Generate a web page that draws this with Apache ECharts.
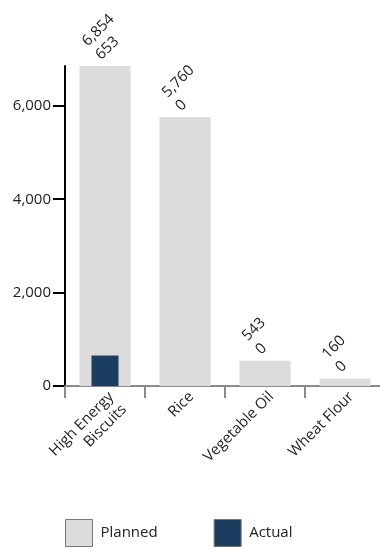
<!DOCTYPE html>
<html>
<head>
<meta charset="utf-8">
<script src="https://cdn.jsdelivr.net/npm/echarts@6/dist/echarts.min.js"></script>
<style>
  html, body { margin: 0; padding: 0; background: #fff; }
  #chart { width: 380px; height: 549px; }
</style>
</head>
<body>
<div id="chart"></div>
<script>
// Food commodities: planned vs actual tonnage
const categories = ['High Energy\nBiscuits', 'Rice', 'Vegetable Oil', 'Wheat Flour'];
const planned = [6854, 5760, 543, 160];
const actual = [653, 0, 0, 0];
const yTicks = [0, 2000, 4000, 6000];

const fmt = v => v.toLocaleString('en-US');
const font = '"Open Sans", "Noto Sans", sans-serif';

const chart = echarts.init(document.getElementById('chart'), null, { renderer: 'canvas' });

const xBase = {
  type: 'category',
  data: categories,
  boundaryGap: true
};

chart.setOption({
  animation: false,
  textStyle: { fontFamily: font },
  grid: { left: 65, top: 66, width: 320, bottom: 163, containLabel: false, outerBoundsMode: 'none' },
  legend: {
    left: 65,
    top: 519,
    padding: 0,
    icon: 'rect',
    itemWidth: 27,
    itemHeight: 27,
    itemGap: 56,
    textStyle: { fontSize: 15, color: '#222', fontFamily: font, padding: [0, 0, 0, 3] },
    data: [
      { name: 'Planned', itemStyle: { borderColor: '#777', borderWidth: 1 } },
      { name: 'Actual', itemStyle: { borderColor: '#777', borderWidth: 1 } }
    ]
  },
  xAxis: [
    Object.assign({}, xBase, {
      axisLine: { show: true, lineStyle: { color: '#8a8a8a', width: 2 } },
      axisTick: { show: true, length: 12, lineStyle: { color: '#8a8a8a', width: 2 } },
      axisLabel: {
        interval: 0,
        rotate: 45,
        align: 'right',
        verticalAlign: 'top',
        fontSize: 15,
        color: '#222',
        fontFamily: font,
        margin: 2,
        lineHeight: 18
      }
    }),
    Object.assign({}, xBase, {
      show: false
    })
  ],
  yAxis: {
    type: 'value',
    min: 0,
    max: Math.max(...planned),
    splitLine: { show: false },
    axisLine: { show: true, lineStyle: { color: '#000', width: 2 } },
    axisTick: { show: true, length: 12, customValues: yTicks, lineStyle: { color: '#000', width: 2 } },
    axisLabel: {
      customValues: yTicks,
      fontSize: 15,
      color: '#222',
      fontFamily: font,
      margin: 14,
      formatter: v => fmt(v)
    }
  },
  series: [
    {
      name: 'Planned',
      type: 'bar',
      xAxisIndex: 0,
      data: planned,
      barWidth: 51,
      itemStyle: { color: '#dcdcdc' },
      label: {
        show: true,
        position: 'top',
        rotate: 45,
        align: 'left',
        verticalAlign: 'bottom',
        distance: 2,
        fontSize: 15,
        lineHeight: 19,
        color: '#222',
        fontFamily: font,
        formatter: p => fmt(planned[p.dataIndex]) + '\n' + fmt(actual[p.dataIndex])
      }
    },
    {
      name: 'Actual',
      type: 'bar',
      xAxisIndex: 1,
      data: actual,
      barWidth: 27,
      itemStyle: { color: '#1b3e60' }
    }
  ]
});
</script>
</body>
</html>
